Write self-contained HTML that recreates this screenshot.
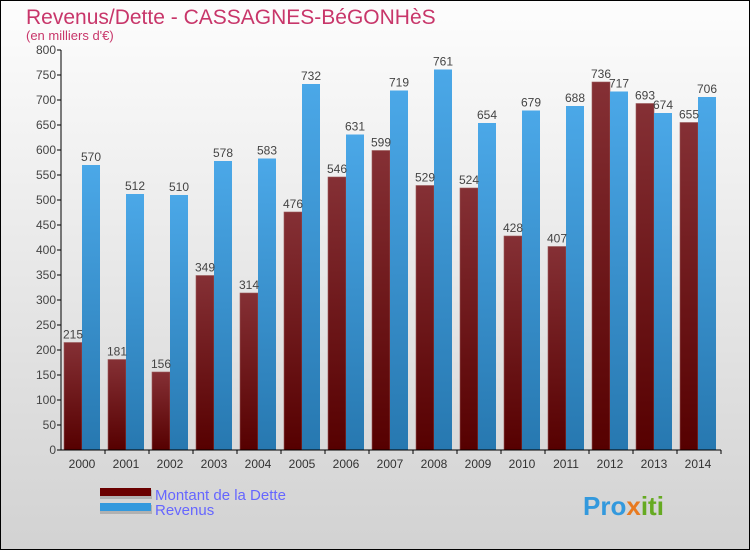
<!DOCTYPE html>
<html><head><meta charset="utf-8"><style>
body{margin:0}
svg text{font-family:"Liberation Sans",sans-serif}
</style></head><body>
<svg id="c" width="750" height="550" xmlns="http://www.w3.org/2000/svg">
<defs>
<linearGradient id="bg" x1="0" y1="0" x2="0" y2="1"><stop offset="0" stop-color="#fdfdfd"/><stop offset="1" stop-color="#d2d2d2"/></linearGradient>
<linearGradient id="gd" x1="0" y1="0" x2="0" y2="1"><stop offset="0" stop-color="#853035"/><stop offset="1" stop-color="#560000"/></linearGradient>
<linearGradient id="gr" x1="0" y1="0" x2="0" y2="1"><stop offset="0" stop-color="#4ba8e8"/><stop offset="1" stop-color="#2778b0"/></linearGradient>
</defs>
<rect x="0.5" y="0.5" width="749" height="549" fill="url(#bg)" stroke="#000"/>
<text x="26" y="24" font-size="21" fill="#c8366a">Revenus/Dette - CASSAGNES-BéGONHèS</text>
<text x="26" y="40" font-size="13" fill="#c8366a">(en milliers d'€)</text>
<g id="bars"></g>
<g id="axes"></g>
<rect x="100" y="490" width="52" height="9" fill="#999" opacity="0.6"/>
<rect x="100" y="488" width="51" height="8" fill="#6a0000"/>
<rect x="100" y="505" width="52" height="9" fill="#999" opacity="0.6"/>
<rect x="100" y="503" width="51" height="8" fill="#3399dd"/>
<text x="155" y="500" font-size="15" fill="#6666ff">Montant de la Dette</text>
<text x="155" y="515" font-size="15" fill="#6666ff">Revenus</text>
<text x="583" y="515" font-size="26" font-weight="bold" fill="#3399dd">Pro<tspan fill="#e87a20">x</tspan><tspan fill="#66aa22">iti</tspan></text>
</svg>
<script>
const years=["2000","2001","2002","2003","2004","2005","2006","2007","2008","2009","2010","2011","2012","2013","2014"];
const dette=[215,181,156,349,314,476,546,599,529,524,428,407,736,693,655];
const revenus=[570,512,510,578,583,732,631,719,761,654,679,688,717,674,706];
const yTicks=[0,50,100,150,200,250,300,350,400,450,500,550,600,650,700,750,800];
const NS="http://www.w3.org/2000/svg";
const x0=61,gw=44,y0=450,k=0.5;
const Y=v=>y0-v*k;
function mk(t,a,p){const e=document.createElementNS(NS,t);for(const n in a)e.setAttribute(n,a[n]);p.appendChild(e);return e;}
const bars=document.getElementById('bars'),axes=document.getElementById('axes');
years.forEach((yr,i)=>{
  const gx=x0+i*gw;
  let r=mk('rect',{x:gx+3,y:Y(dette[i]),width:18,height:dette[i]*k,fill:'url(#gd)',stroke:'#9a5a5a','stroke-width':0.6},bars);
  
  
  r=mk('rect',{x:gx+21,y:Y(revenus[i]),width:18,height:revenus[i]*k,fill:'url(#gr)'},bars);
  
  
  let t=mk('text',{x:gx+12,y:Y(dette[i])-4,'font-size':12,fill:'#444','text-anchor':'middle'},bars);t.textContent=dette[i];
  
  
  t=mk('text',{x:gx+30,y:Y(revenus[i])-4,'font-size':12,fill:'#444','text-anchor':'middle'},bars);t.textContent=revenus[i];
  
  
  t=mk('text',{x:gx+21,y:468,'font-size':12,fill:'#333','text-anchor':'middle'},axes);t.textContent=yr;
  
  
  const tk=mk('line',{x1:gx+gw,x2:gx+gw,y1:450,y2:454,stroke:'#000'},axes);
  
  
});
yTicks.forEach(v=>{
  const l=mk('line',{x1:57,x2:61,y1:Y(v),y2:Y(v),stroke:'#000'},axes);
  
  
  const t=mk('text',{x:56,y:Y(v)+4,'font-size':12,fill:'#444','text-anchor':'end'},axes);t.textContent=v;
  
  
});
let a=mk('line',{x1:61,x2:61,y1:50,y2:450,stroke:'#000'},axes);


a=mk('line',{x1:61,x2:x0+gw*years.length,y1:450,y2:450,stroke:'#000'},axes);


</script>
</body></html>
